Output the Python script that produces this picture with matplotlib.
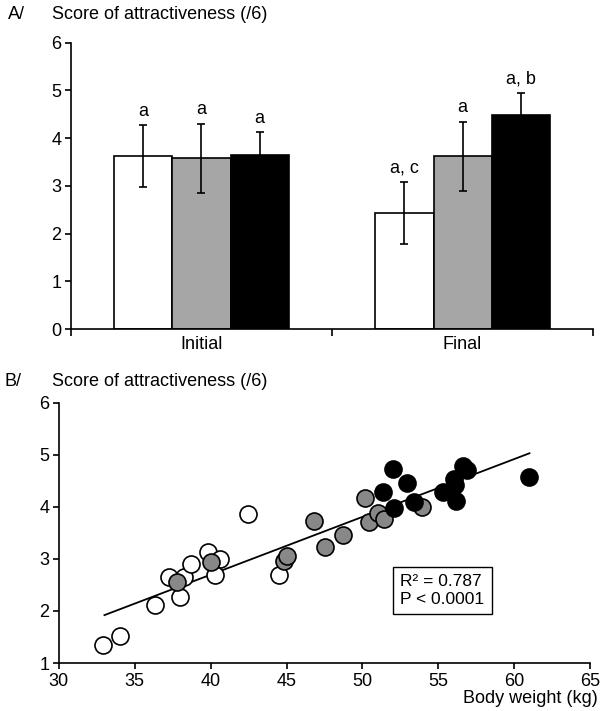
import matplotlib
matplotlib.use("Agg")
import matplotlib.pyplot as plt

plt.rcParams['font.family'] = ['Liberation Sans', 'DejaVu Sans']

# --- panel A: bars ---
phases = ["Initial", "Final"]
group_colors = ["white", "#a6a6a6", "black"]
initial_mean = [3.62, 3.58, 3.65]
initial_err = [0.65, 0.72, 0.47]
final_mean = [2.43, 3.62, 4.48]
final_err = [0.65, 0.72, 0.47]
initial_letters = ["a", "a", "a"]
final_letters = ["a, c", "a", "a, b"]

# --- panel B: scatter ---
white_x = [32.9, 34.0, 36.3, 37.25, 38.25, 38.0, 38.7, 39.85, 40.6, 40.3, 42.45, 44.5]
white_y = [1.35, 1.51, 2.11, 2.65, 2.66, 2.26, 2.90, 3.13, 2.99, 2.70, 3.87, 2.70]
gray_x = [37.8, 40.0, 44.8, 45.05, 46.8, 47.55, 48.7, 50.15, 50.45, 51.0, 51.45, 53.9]
gray_y = [2.55, 2.94, 2.96, 3.05, 3.73, 3.22, 3.46, 4.18, 3.71, 3.88, 3.77, 3.99]
black_x = [51.35, 52.0, 52.1, 52.95, 53.4, 55.3, 56.6, 56.9, 56.05, 56.1, 56.15, 60.95]
black_y = [4.28, 4.72, 3.97, 4.45, 4.10, 4.28, 4.79, 4.70, 4.53, 4.42, 4.12, 4.58]
fit_x = [33.0, 61.0]
fit_y = [1.92, 5.03]

fs = 13

fig = plt.figure(figsize=(6.01, 7.11), dpi=100)

# panel A
ax1 = fig.add_axes([0.118, 0.537, 0.869, 0.403])
width = 0.223
for i in range(3):
    off = (i - 1) * width
    for j, (m, e, lab) in enumerate([(initial_mean[i], initial_err[i], initial_letters[i]),
                                     (final_mean[i], final_err[i], final_letters[i])]):
        ax1.bar(j + off, m, width=width, color=group_colors[i], edgecolor="black",
                linewidth=1.2, zorder=2)
        ax1.errorbar(j + off, m, yerr=e, color="black", elinewidth=1.2,
                     capsize=3, capthick=1.2, zorder=3)
        ax1.text(j + off, m + e + 0.12, lab, ha="center", va="bottom", fontsize=fs)

ax1.set_xlim(-0.5, 1.5)
ax1.set_ylim(0, 6)
ax1.set_yticks(range(0, 7))
ax1.set_xticks([-0.5, 0.5, 1.5])
ax1.set_xticklabels([])
ax1.set_xticks([0, 1], minor=True)
ax1.set_xticklabels(phases, minor=True, fontsize=fs)
ax1.tick_params(axis="x", which="minor", length=0, pad=5)
ax1.tick_params(axis="x", which="major", length=5, width=1.2, direction="out")
ax1.tick_params(axis="y", length=4, width=1.2, direction="out", labelsize=fs, pad=3)
ax1.spines["top"].set_visible(False)
ax1.spines["right"].set_visible(False)
for s in ("left", "bottom"):
    ax1.spines[s].set_linewidth(1.2)

fig.text(0.013, 0.979, "A/", fontsize=fs, va="center")
fig.text(0.087, 0.979, "Score of attractiveness (/6)", fontsize=fs, va="center")

# panel B
ax2 = fig.add_axes([0.098, 0.0675, 0.884, 0.366])
ax2.plot(fit_x, fit_y, color="black", linewidth=1.3, zorder=1)
ax2.scatter(white_x, white_y, s=150, facecolor="white", edgecolor="black", linewidth=1.2, zorder=2)
ax2.scatter(gray_x, gray_y, s=150, facecolor="#888888", edgecolor="black", linewidth=1.2, zorder=3)
ax2.scatter(black_x, black_y, s=150, facecolor="black", edgecolor="black", linewidth=1.2, zorder=4)

ax2.text(52.5, 2.4, "R² = 0.787\nP < 0.0001", fontsize=12.5, va="center", ha="left",
         linespacing=1.25,
         bbox=dict(boxstyle="square,pad=0.4", facecolor="white", edgecolor="black", linewidth=1))

ax2.set_xlim(30, 65)
ax2.set_ylim(1, 6)
ax2.set_xticks(range(30, 66, 5))
ax2.set_yticks(range(1, 7))
ax2.tick_params(axis="both", length=4, width=1.2, direction="out", labelsize=fs, pad=3)
ax2.spines["top"].set_visible(False)
ax2.spines["right"].set_visible(False)
for s in ("left", "bottom"):
    ax2.spines[s].set_linewidth(1.2)

fig.text(0.008, 0.464, "B/", fontsize=fs, va="center")
fig.text(0.087, 0.464, "Score of attractiveness (/6)", fontsize=fs, va="center")
fig.text(0.995, 0.018, "Body weight (kg)", fontsize=fs, ha="right", va="center")

fig.savefig("out.png", dpi=100)
